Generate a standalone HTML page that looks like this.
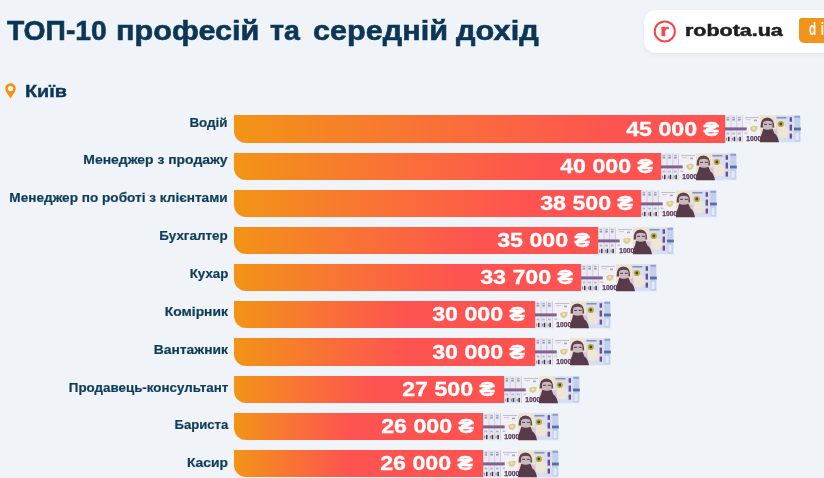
<!DOCTYPE html>
<html lang="uk"><head><meta charset="utf-8"><title>ТОП-10 професій та середній дохід</title>
<style>
html,body{margin:0;padding:0}
body{width:824px;height:478px;overflow:hidden;background:#f0f4f8;position:relative;font-family:"Liberation Sans",Arial,sans-serif;}
.title{position:absolute;left:0;top:14.50px;width:600px;height:32px;font-size:28px;font-weight:700;color:#0b3657;white-space:nowrap;line-height:32px;-webkit-text-stroke:0.6px #0b3657;}
.title span{position:absolute;top:0;transform-origin:0 0}
.card{position:absolute;left:643.5px;top:10px;width:200px;height:42.5px;background:#fff;border-radius:12px;box-shadow:0 2px 4px rgba(40,70,100,0.06)}
.logo{position:absolute;left:653px;top:20px;width:24px;height:24px;}
.rob{position:absolute;left:685.3px;top:21.46px;font-size:16px;font-weight:700;color:#1e1f24;line-height:20px;white-space:nowrap;-webkit-text-stroke:0.5px #1e1f24;transform:scaleX(1.34);transform-origin:0 0}
.di{position:absolute;left:799px;top:18.1px;width:60px;height:24.9px;background:#f0941c;border-radius:2.5px 0 0 5px;}
.dit{position:absolute;left:808.5px;top:19.07px;color:#fff;font-size:17.7px;font-weight:600;line-height:20px;white-space:nowrap;letter-spacing:7px;transform:scaleX(0.66);transform-origin:0 0}
.city{position:absolute;left:24.5px;top:80.87px;font-size:17.4px;font-weight:700;color:#0b3657;line-height:20px;-webkit-text-stroke:0.4px #0b3657;transform:scaleX(1.14);transform-origin:0 0}
.pin{position:absolute;left:4.8px;top:82.5px}
.lab{position:absolute;right:596.2px;font-size:12.5px;font-weight:700;color:#0f3c5b;line-height:16px;white-space:nowrap;text-align:right;-webkit-text-stroke:0.2px #0f3c5b;transform:scaleX(1.10);transform-origin:100% 0}
.bar{position:absolute;left:234.3px;height:27.3px;border-radius:0 0 0 12px;}
.val{position:absolute;top:0.2px;line-height:27.3px;font-size:19.5px;font-weight:700;color:#fff;white-space:nowrap;-webkit-text-stroke:0.3px #fff;transform:scaleX(1.19);transform-origin:100% 0}
.nw{position:absolute;width:77px;height:28px}
.note{display:block;filter:blur(0.3px)}
</style></head><body>
<div class="title"><span style="left:7.2px;transform:scaleX(1.0098)">ТОП-10</span> <span style="left:116.39px;transform:scaleX(1.0947)">професій</span> <span style="left:270.0px;transform:scaleX(1.0219)">та</span> <span style="left:313.4px;transform:scaleX(1.0932)">середній</span> <span style="left:456.4px;transform:scaleX(1.0982)">дохід</span></div>
<div class="card"></div>
<svg class="logo" width="24" height="24" viewBox="0 0 24 24"><circle cx="11.8" cy="11.45" r="10.05" fill="none" stroke="#f2484f" stroke-width="2.05"/><text x="7.6" y="15.9" font-family="Liberation Sans, sans-serif" font-weight="bold" font-size="16.6" fill="#f2484f" stroke="#f2484f" stroke-width="0.6" textLength="8.2" lengthAdjust="spacingAndGlyphs">r</text></svg>
<div class="rob">robota.ua</div>
<div class="di"></div><div class="dit">dim</div>
<svg class="pin" width="11" height="16" viewBox="0 0 11 16"><path d="M5.5 0.3C2.5 0.3 0.3 2.6 0.3 5.4C0.3 8.9 4 12.6 5.5 15.5C7 12.6 10.7 8.9 10.7 5.4C10.7 2.6 8.5 0.3 5.5 0.3Z" fill="#f39214"/><circle cx="5.5" cy="5.6" r="2.65" fill="#f0f4f8"/></svg>
<div class="city">Київ</div>
<div class="lab" style="top:114.57px;transform:scaleX(1.073)">Водій</div>
<div class="bar" style="top:115.40px;width:490.50px;background:linear-gradient(to right,#f29416 0%,#f97236 39.0%,#fe5351 78.0%,#fe5351 100%)"><span class="val" style="right:5.7px">45 000 ₴</span></div>
<div class="nw" style="top:115.40px;left:724.80px"><svg class="note" width="77" height="28" viewBox="0 0 77 28">
<rect x="0" y="0.3" width="18" height="27" fill="#ebeaf2"/>
<rect x="0" y="0.3" width="0.7" height="27" fill="#c6c3d2"/><rect x="5.7" y="0.3" width="0.7" height="27" fill="#c6c3d2"/><rect x="11.4" y="0.3" width="0.7" height="27" fill="#c6c3d2"/>
<rect x="0" y="12.4" width="22" height="3" fill="#7d6192"/>
<rect x="1.6" y="1.8" width="2.6" height="1.2" fill="#a9acc8"/><rect x="7.3" y="1.8" width="2.6" height="1.2" fill="#a9acc8"/><rect x="13" y="1.8" width="2.6" height="1.2" fill="#a9acc8"/>
<rect x="1.6" y="3.6" width="2.6" height="2" fill="#92a0c2"/><rect x="7.3" y="3.6" width="2.6" height="2" fill="#92a0c2"/><rect x="13" y="3.6" width="2.6" height="2" fill="#92a0c2"/>
<rect x="1.6" y="17.6" width="2.6" height="1.8" fill="#b6b5c8"/><rect x="7.3" y="17.6" width="2.6" height="1.8" fill="#b6b5c8"/><rect x="13" y="17.6" width="2.6" height="1.8" fill="#b6b5c8"/>
<rect x="3" y="21.8" width="1.5" height="4.4" fill="#3f3347"/><rect x="8.7" y="21.8" width="1.5" height="4.4" fill="#3f3347"/><rect x="14.4" y="21.8" width="1.5" height="4.4" fill="#3f3347"/>
<rect x="1.2" y="22.6" width="1" height="3" fill="#8a8296"/><rect x="6.9" y="22.6" width="1" height="3" fill="#8a8296"/><rect x="12.6" y="22.6" width="1" height="3" fill="#8a8296"/>
<rect x="17.1" y="0.3" width="58.6" height="27" fill="#f1f0f6"/>
<rect x="17.1" y="0.3" width="0.7" height="27" fill="#c6c3d2"/>
<rect x="35" y="0.3" width="19" height="27" fill="#ede4cf"/>
<rect x="51" y="0.3" width="24.7" height="27" fill="#d7def1"/>
<circle cx="58" cy="17" r="6.2" fill="#ece5d8"/>
<rect x="48" y="14.4" width="4.5" height="6.5" fill="#dcc0d6"/>
<rect x="17.1" y="12.4" width="4.6" height="3" fill="#7d6192"/>
<rect x="20" y="2" width="14" height="0.9" fill="#b9b7ca"/><rect x="21" y="4.2" width="5" height="0.9" fill="#c5c3d3"/><rect x="29" y="4.6" width="3" height="1.6" fill="#a8a6bc"/>
<path d="M25 12.5Q28.5 9.6 32.5 11.3Q33 15.5 29.3 17Q25.3 16.5 25 12.5Z" fill="#d9cb88"/><circle cx="29" cy="13.4" r="1.4" fill="#ece6bf"/>
<rect x="19.5" y="17.5" width="2.8" height="1.6" fill="#c4c2d2"/>
<text x="21.3" y="26.1" font-family="Liberation Sans, sans-serif" font-weight="bold" font-size="6.9" fill="#5a3c5e" stroke="#5a3c5e" stroke-width="0.25" textLength="15" lengthAdjust="spacingAndGlyphs">1000</text>
<path d="M35.6 12.5Q35.2 2.8 42.5 2.6Q49.3 2.8 49.2 12.5Z" fill="#5d4252"/>
<path d="M38 8Q38.8 5.8 42.7 5.7Q46.8 5.8 47.5 8L47.5 13.8Q46.3 16.3 42.7 16.4Q39.2 16.3 38 13.8Z" fill="#cbb9bc"/>
<rect x="39" y="8.8" width="3" height="1.1" fill="#5e4352"/><rect x="43.8" y="8.8" width="3" height="1.1" fill="#5e4352"/>
<path d="M38.2 13.8Q42.7 15.6 47.5 13.8L49.4 18.6Q53 20.6 54 27.3L35 27.3Q35.3 21 36.9 18.6Z" fill="#573b4a"/>
<circle cx="55.8" cy="9" r="3.1" fill="#c0ac35"/><circle cx="55.8" cy="9" r="1.4" fill="#5a4426"/>
<rect x="51.5" y="2" width="10" height="1.5" fill="#8a8ea8"/>
<rect x="64.6" y="2.2" width="2.4" height="4.6" fill="#6e4e8e"/><rect x="64.6" y="9.6" width="2.4" height="6" fill="#6e4e8e"/><rect x="64.6" y="18.6" width="2.4" height="5" fill="#6e4e8e"/>
<rect x="69.4" y="0.8" width="5.6" height="25.6" rx="1.2" fill="#c2d0ec"/>
<rect x="69.4" y="0.8" width="5.6" height="2" fill="#8fa2cf"/>
<rect x="69" y="12.6" width="6.8" height="2.8" fill="#5b6ea4"/>
<rect x="70.6" y="18" width="3" height="7" fill="#e4e9f5"/>
</svg></div><div class="lab" style="top:152.43px;transform:scaleX(1.113)">Менеджер з продажу</div>
<div class="bar" style="top:152.56px;width:427.00px;background:linear-gradient(to right,#f29416 0%,#f97236 36.6%,#fe5351 73.2%,#fe5351 100%)"><span class="val" style="right:8.0px">40 000 ₴</span></div>
<div class="nw" style="top:152.56px;left:661.30px"><svg class="note" width="77" height="28" viewBox="0 0 77 28">
<rect x="0" y="0.3" width="18" height="27" fill="#ebeaf2"/>
<rect x="0" y="0.3" width="0.7" height="27" fill="#c6c3d2"/><rect x="5.7" y="0.3" width="0.7" height="27" fill="#c6c3d2"/><rect x="11.4" y="0.3" width="0.7" height="27" fill="#c6c3d2"/>
<rect x="0" y="12.4" width="22" height="3" fill="#7d6192"/>
<rect x="1.6" y="1.8" width="2.6" height="1.2" fill="#a9acc8"/><rect x="7.3" y="1.8" width="2.6" height="1.2" fill="#a9acc8"/><rect x="13" y="1.8" width="2.6" height="1.2" fill="#a9acc8"/>
<rect x="1.6" y="3.6" width="2.6" height="2" fill="#92a0c2"/><rect x="7.3" y="3.6" width="2.6" height="2" fill="#92a0c2"/><rect x="13" y="3.6" width="2.6" height="2" fill="#92a0c2"/>
<rect x="1.6" y="17.6" width="2.6" height="1.8" fill="#b6b5c8"/><rect x="7.3" y="17.6" width="2.6" height="1.8" fill="#b6b5c8"/><rect x="13" y="17.6" width="2.6" height="1.8" fill="#b6b5c8"/>
<rect x="3" y="21.8" width="1.5" height="4.4" fill="#3f3347"/><rect x="8.7" y="21.8" width="1.5" height="4.4" fill="#3f3347"/><rect x="14.4" y="21.8" width="1.5" height="4.4" fill="#3f3347"/>
<rect x="1.2" y="22.6" width="1" height="3" fill="#8a8296"/><rect x="6.9" y="22.6" width="1" height="3" fill="#8a8296"/><rect x="12.6" y="22.6" width="1" height="3" fill="#8a8296"/>
<rect x="17.1" y="0.3" width="58.6" height="27" fill="#f1f0f6"/>
<rect x="17.1" y="0.3" width="0.7" height="27" fill="#c6c3d2"/>
<rect x="35" y="0.3" width="19" height="27" fill="#ede4cf"/>
<rect x="51" y="0.3" width="24.7" height="27" fill="#d7def1"/>
<circle cx="58" cy="17" r="6.2" fill="#ece5d8"/>
<rect x="48" y="14.4" width="4.5" height="6.5" fill="#dcc0d6"/>
<rect x="17.1" y="12.4" width="4.6" height="3" fill="#7d6192"/>
<rect x="20" y="2" width="14" height="0.9" fill="#b9b7ca"/><rect x="21" y="4.2" width="5" height="0.9" fill="#c5c3d3"/><rect x="29" y="4.6" width="3" height="1.6" fill="#a8a6bc"/>
<path d="M25 12.5Q28.5 9.6 32.5 11.3Q33 15.5 29.3 17Q25.3 16.5 25 12.5Z" fill="#d9cb88"/><circle cx="29" cy="13.4" r="1.4" fill="#ece6bf"/>
<rect x="19.5" y="17.5" width="2.8" height="1.6" fill="#c4c2d2"/>
<text x="21.3" y="26.1" font-family="Liberation Sans, sans-serif" font-weight="bold" font-size="6.9" fill="#5a3c5e" stroke="#5a3c5e" stroke-width="0.25" textLength="15" lengthAdjust="spacingAndGlyphs">1000</text>
<path d="M35.6 12.5Q35.2 2.8 42.5 2.6Q49.3 2.8 49.2 12.5Z" fill="#5d4252"/>
<path d="M38 8Q38.8 5.8 42.7 5.7Q46.8 5.8 47.5 8L47.5 13.8Q46.3 16.3 42.7 16.4Q39.2 16.3 38 13.8Z" fill="#cbb9bc"/>
<rect x="39" y="8.8" width="3" height="1.1" fill="#5e4352"/><rect x="43.8" y="8.8" width="3" height="1.1" fill="#5e4352"/>
<path d="M38.2 13.8Q42.7 15.6 47.5 13.8L49.4 18.6Q53 20.6 54 27.3L35 27.3Q35.3 21 36.9 18.6Z" fill="#573b4a"/>
<circle cx="55.8" cy="9" r="3.1" fill="#c0ac35"/><circle cx="55.8" cy="9" r="1.4" fill="#5a4426"/>
<rect x="51.5" y="2" width="10" height="1.5" fill="#8a8ea8"/>
<rect x="64.6" y="2.2" width="2.4" height="4.6" fill="#6e4e8e"/><rect x="64.6" y="9.6" width="2.4" height="6" fill="#6e4e8e"/><rect x="64.6" y="18.6" width="2.4" height="5" fill="#6e4e8e"/>
<rect x="69.4" y="0.8" width="5.6" height="25.6" rx="1.2" fill="#c2d0ec"/>
<rect x="69.4" y="0.8" width="5.6" height="2" fill="#8fa2cf"/>
<rect x="69" y="12.6" width="6.8" height="2.8" fill="#5b6ea4"/>
<rect x="70.6" y="18" width="3" height="7" fill="#e4e9f5"/>
</svg></div><div class="lab" style="top:190.29px;transform:scaleX(1.088)">Менеджер по роботі з клієнтами</div>
<div class="bar" style="top:189.72px;width:406.50px;background:linear-gradient(to right,#f29416 0%,#f97236 35.7%,#fe5351 71.4%,#fe5351 100%)"><span class="val" style="right:8.0px">38 500 ₴</span></div>
<div class="nw" style="top:189.72px;left:640.80px"><svg class="note" width="77" height="28" viewBox="0 0 77 28">
<rect x="0" y="0.3" width="18" height="27" fill="#ebeaf2"/>
<rect x="0" y="0.3" width="0.7" height="27" fill="#c6c3d2"/><rect x="5.7" y="0.3" width="0.7" height="27" fill="#c6c3d2"/><rect x="11.4" y="0.3" width="0.7" height="27" fill="#c6c3d2"/>
<rect x="0" y="12.4" width="22" height="3" fill="#7d6192"/>
<rect x="1.6" y="1.8" width="2.6" height="1.2" fill="#a9acc8"/><rect x="7.3" y="1.8" width="2.6" height="1.2" fill="#a9acc8"/><rect x="13" y="1.8" width="2.6" height="1.2" fill="#a9acc8"/>
<rect x="1.6" y="3.6" width="2.6" height="2" fill="#92a0c2"/><rect x="7.3" y="3.6" width="2.6" height="2" fill="#92a0c2"/><rect x="13" y="3.6" width="2.6" height="2" fill="#92a0c2"/>
<rect x="1.6" y="17.6" width="2.6" height="1.8" fill="#b6b5c8"/><rect x="7.3" y="17.6" width="2.6" height="1.8" fill="#b6b5c8"/><rect x="13" y="17.6" width="2.6" height="1.8" fill="#b6b5c8"/>
<rect x="3" y="21.8" width="1.5" height="4.4" fill="#3f3347"/><rect x="8.7" y="21.8" width="1.5" height="4.4" fill="#3f3347"/><rect x="14.4" y="21.8" width="1.5" height="4.4" fill="#3f3347"/>
<rect x="1.2" y="22.6" width="1" height="3" fill="#8a8296"/><rect x="6.9" y="22.6" width="1" height="3" fill="#8a8296"/><rect x="12.6" y="22.6" width="1" height="3" fill="#8a8296"/>
<rect x="17.1" y="0.3" width="58.6" height="27" fill="#f1f0f6"/>
<rect x="17.1" y="0.3" width="0.7" height="27" fill="#c6c3d2"/>
<rect x="35" y="0.3" width="19" height="27" fill="#ede4cf"/>
<rect x="51" y="0.3" width="24.7" height="27" fill="#d7def1"/>
<circle cx="58" cy="17" r="6.2" fill="#ece5d8"/>
<rect x="48" y="14.4" width="4.5" height="6.5" fill="#dcc0d6"/>
<rect x="17.1" y="12.4" width="4.6" height="3" fill="#7d6192"/>
<rect x="20" y="2" width="14" height="0.9" fill="#b9b7ca"/><rect x="21" y="4.2" width="5" height="0.9" fill="#c5c3d3"/><rect x="29" y="4.6" width="3" height="1.6" fill="#a8a6bc"/>
<path d="M25 12.5Q28.5 9.6 32.5 11.3Q33 15.5 29.3 17Q25.3 16.5 25 12.5Z" fill="#d9cb88"/><circle cx="29" cy="13.4" r="1.4" fill="#ece6bf"/>
<rect x="19.5" y="17.5" width="2.8" height="1.6" fill="#c4c2d2"/>
<text x="21.3" y="26.1" font-family="Liberation Sans, sans-serif" font-weight="bold" font-size="6.9" fill="#5a3c5e" stroke="#5a3c5e" stroke-width="0.25" textLength="15" lengthAdjust="spacingAndGlyphs">1000</text>
<path d="M35.6 12.5Q35.2 2.8 42.5 2.6Q49.3 2.8 49.2 12.5Z" fill="#5d4252"/>
<path d="M38 8Q38.8 5.8 42.7 5.7Q46.8 5.8 47.5 8L47.5 13.8Q46.3 16.3 42.7 16.4Q39.2 16.3 38 13.8Z" fill="#cbb9bc"/>
<rect x="39" y="8.8" width="3" height="1.1" fill="#5e4352"/><rect x="43.8" y="8.8" width="3" height="1.1" fill="#5e4352"/>
<path d="M38.2 13.8Q42.7 15.6 47.5 13.8L49.4 18.6Q53 20.6 54 27.3L35 27.3Q35.3 21 36.9 18.6Z" fill="#573b4a"/>
<circle cx="55.8" cy="9" r="3.1" fill="#c0ac35"/><circle cx="55.8" cy="9" r="1.4" fill="#5a4426"/>
<rect x="51.5" y="2" width="10" height="1.5" fill="#8a8ea8"/>
<rect x="64.6" y="2.2" width="2.4" height="4.6" fill="#6e4e8e"/><rect x="64.6" y="9.6" width="2.4" height="6" fill="#6e4e8e"/><rect x="64.6" y="18.6" width="2.4" height="5" fill="#6e4e8e"/>
<rect x="69.4" y="0.8" width="5.6" height="25.6" rx="1.2" fill="#c2d0ec"/>
<rect x="69.4" y="0.8" width="5.6" height="2" fill="#8fa2cf"/>
<rect x="69" y="12.6" width="6.8" height="2.8" fill="#5b6ea4"/>
<rect x="70.6" y="18" width="3" height="7" fill="#e4e9f5"/>
</svg></div><div class="lab" style="top:228.15px;transform:scaleX(1.074)">Бухгалтер</div>
<div class="bar" style="top:226.88px;width:363.50px;background:linear-gradient(to right,#f29416 0%,#f97236 33.4%,#fe5351 66.8%,#fe5351 100%)"><span class="val" style="right:7.6px">35 000 ₴</span></div>
<div class="nw" style="top:226.88px;left:597.80px"><svg class="note" width="77" height="28" viewBox="0 0 77 28">
<rect x="0" y="0.3" width="18" height="27" fill="#ebeaf2"/>
<rect x="0" y="0.3" width="0.7" height="27" fill="#c6c3d2"/><rect x="5.7" y="0.3" width="0.7" height="27" fill="#c6c3d2"/><rect x="11.4" y="0.3" width="0.7" height="27" fill="#c6c3d2"/>
<rect x="0" y="12.4" width="22" height="3" fill="#7d6192"/>
<rect x="1.6" y="1.8" width="2.6" height="1.2" fill="#a9acc8"/><rect x="7.3" y="1.8" width="2.6" height="1.2" fill="#a9acc8"/><rect x="13" y="1.8" width="2.6" height="1.2" fill="#a9acc8"/>
<rect x="1.6" y="3.6" width="2.6" height="2" fill="#92a0c2"/><rect x="7.3" y="3.6" width="2.6" height="2" fill="#92a0c2"/><rect x="13" y="3.6" width="2.6" height="2" fill="#92a0c2"/>
<rect x="1.6" y="17.6" width="2.6" height="1.8" fill="#b6b5c8"/><rect x="7.3" y="17.6" width="2.6" height="1.8" fill="#b6b5c8"/><rect x="13" y="17.6" width="2.6" height="1.8" fill="#b6b5c8"/>
<rect x="3" y="21.8" width="1.5" height="4.4" fill="#3f3347"/><rect x="8.7" y="21.8" width="1.5" height="4.4" fill="#3f3347"/><rect x="14.4" y="21.8" width="1.5" height="4.4" fill="#3f3347"/>
<rect x="1.2" y="22.6" width="1" height="3" fill="#8a8296"/><rect x="6.9" y="22.6" width="1" height="3" fill="#8a8296"/><rect x="12.6" y="22.6" width="1" height="3" fill="#8a8296"/>
<rect x="17.1" y="0.3" width="58.6" height="27" fill="#f1f0f6"/>
<rect x="17.1" y="0.3" width="0.7" height="27" fill="#c6c3d2"/>
<rect x="35" y="0.3" width="19" height="27" fill="#ede4cf"/>
<rect x="51" y="0.3" width="24.7" height="27" fill="#d7def1"/>
<circle cx="58" cy="17" r="6.2" fill="#ece5d8"/>
<rect x="48" y="14.4" width="4.5" height="6.5" fill="#dcc0d6"/>
<rect x="17.1" y="12.4" width="4.6" height="3" fill="#7d6192"/>
<rect x="20" y="2" width="14" height="0.9" fill="#b9b7ca"/><rect x="21" y="4.2" width="5" height="0.9" fill="#c5c3d3"/><rect x="29" y="4.6" width="3" height="1.6" fill="#a8a6bc"/>
<path d="M25 12.5Q28.5 9.6 32.5 11.3Q33 15.5 29.3 17Q25.3 16.5 25 12.5Z" fill="#d9cb88"/><circle cx="29" cy="13.4" r="1.4" fill="#ece6bf"/>
<rect x="19.5" y="17.5" width="2.8" height="1.6" fill="#c4c2d2"/>
<text x="21.3" y="26.1" font-family="Liberation Sans, sans-serif" font-weight="bold" font-size="6.9" fill="#5a3c5e" stroke="#5a3c5e" stroke-width="0.25" textLength="15" lengthAdjust="spacingAndGlyphs">1000</text>
<path d="M35.6 12.5Q35.2 2.8 42.5 2.6Q49.3 2.8 49.2 12.5Z" fill="#5d4252"/>
<path d="M38 8Q38.8 5.8 42.7 5.7Q46.8 5.8 47.5 8L47.5 13.8Q46.3 16.3 42.7 16.4Q39.2 16.3 38 13.8Z" fill="#cbb9bc"/>
<rect x="39" y="8.8" width="3" height="1.1" fill="#5e4352"/><rect x="43.8" y="8.8" width="3" height="1.1" fill="#5e4352"/>
<path d="M38.2 13.8Q42.7 15.6 47.5 13.8L49.4 18.6Q53 20.6 54 27.3L35 27.3Q35.3 21 36.9 18.6Z" fill="#573b4a"/>
<circle cx="55.8" cy="9" r="3.1" fill="#c0ac35"/><circle cx="55.8" cy="9" r="1.4" fill="#5a4426"/>
<rect x="51.5" y="2" width="10" height="1.5" fill="#8a8ea8"/>
<rect x="64.6" y="2.2" width="2.4" height="4.6" fill="#6e4e8e"/><rect x="64.6" y="9.6" width="2.4" height="6" fill="#6e4e8e"/><rect x="64.6" y="18.6" width="2.4" height="5" fill="#6e4e8e"/>
<rect x="69.4" y="0.8" width="5.6" height="25.6" rx="1.2" fill="#c2d0ec"/>
<rect x="69.4" y="0.8" width="5.6" height="2" fill="#8fa2cf"/>
<rect x="69" y="12.6" width="6.8" height="2.8" fill="#5b6ea4"/>
<rect x="70.6" y="18" width="3" height="7" fill="#e4e9f5"/>
</svg></div><div class="lab" style="top:266.01px;transform:scaleX(1.062)">Кухар</div>
<div class="bar" style="top:264.04px;width:346.70px;background:linear-gradient(to right,#f29416 0%,#f97236 32.4%,#fe5351 64.7%,#fe5351 100%)"><span class="val" style="right:8.1px">33 700 ₴</span></div>
<div class="nw" style="top:264.04px;left:581.00px"><svg class="note" width="77" height="28" viewBox="0 0 77 28">
<rect x="0" y="0.3" width="18" height="27" fill="#ebeaf2"/>
<rect x="0" y="0.3" width="0.7" height="27" fill="#c6c3d2"/><rect x="5.7" y="0.3" width="0.7" height="27" fill="#c6c3d2"/><rect x="11.4" y="0.3" width="0.7" height="27" fill="#c6c3d2"/>
<rect x="0" y="12.4" width="22" height="3" fill="#7d6192"/>
<rect x="1.6" y="1.8" width="2.6" height="1.2" fill="#a9acc8"/><rect x="7.3" y="1.8" width="2.6" height="1.2" fill="#a9acc8"/><rect x="13" y="1.8" width="2.6" height="1.2" fill="#a9acc8"/>
<rect x="1.6" y="3.6" width="2.6" height="2" fill="#92a0c2"/><rect x="7.3" y="3.6" width="2.6" height="2" fill="#92a0c2"/><rect x="13" y="3.6" width="2.6" height="2" fill="#92a0c2"/>
<rect x="1.6" y="17.6" width="2.6" height="1.8" fill="#b6b5c8"/><rect x="7.3" y="17.6" width="2.6" height="1.8" fill="#b6b5c8"/><rect x="13" y="17.6" width="2.6" height="1.8" fill="#b6b5c8"/>
<rect x="3" y="21.8" width="1.5" height="4.4" fill="#3f3347"/><rect x="8.7" y="21.8" width="1.5" height="4.4" fill="#3f3347"/><rect x="14.4" y="21.8" width="1.5" height="4.4" fill="#3f3347"/>
<rect x="1.2" y="22.6" width="1" height="3" fill="#8a8296"/><rect x="6.9" y="22.6" width="1" height="3" fill="#8a8296"/><rect x="12.6" y="22.6" width="1" height="3" fill="#8a8296"/>
<rect x="17.1" y="0.3" width="58.6" height="27" fill="#f1f0f6"/>
<rect x="17.1" y="0.3" width="0.7" height="27" fill="#c6c3d2"/>
<rect x="35" y="0.3" width="19" height="27" fill="#ede4cf"/>
<rect x="51" y="0.3" width="24.7" height="27" fill="#d7def1"/>
<circle cx="58" cy="17" r="6.2" fill="#ece5d8"/>
<rect x="48" y="14.4" width="4.5" height="6.5" fill="#dcc0d6"/>
<rect x="17.1" y="12.4" width="4.6" height="3" fill="#7d6192"/>
<rect x="20" y="2" width="14" height="0.9" fill="#b9b7ca"/><rect x="21" y="4.2" width="5" height="0.9" fill="#c5c3d3"/><rect x="29" y="4.6" width="3" height="1.6" fill="#a8a6bc"/>
<path d="M25 12.5Q28.5 9.6 32.5 11.3Q33 15.5 29.3 17Q25.3 16.5 25 12.5Z" fill="#d9cb88"/><circle cx="29" cy="13.4" r="1.4" fill="#ece6bf"/>
<rect x="19.5" y="17.5" width="2.8" height="1.6" fill="#c4c2d2"/>
<text x="21.3" y="26.1" font-family="Liberation Sans, sans-serif" font-weight="bold" font-size="6.9" fill="#5a3c5e" stroke="#5a3c5e" stroke-width="0.25" textLength="15" lengthAdjust="spacingAndGlyphs">1000</text>
<path d="M35.6 12.5Q35.2 2.8 42.5 2.6Q49.3 2.8 49.2 12.5Z" fill="#5d4252"/>
<path d="M38 8Q38.8 5.8 42.7 5.7Q46.8 5.8 47.5 8L47.5 13.8Q46.3 16.3 42.7 16.4Q39.2 16.3 38 13.8Z" fill="#cbb9bc"/>
<rect x="39" y="8.8" width="3" height="1.1" fill="#5e4352"/><rect x="43.8" y="8.8" width="3" height="1.1" fill="#5e4352"/>
<path d="M38.2 13.8Q42.7 15.6 47.5 13.8L49.4 18.6Q53 20.6 54 27.3L35 27.3Q35.3 21 36.9 18.6Z" fill="#573b4a"/>
<circle cx="55.8" cy="9" r="3.1" fill="#c0ac35"/><circle cx="55.8" cy="9" r="1.4" fill="#5a4426"/>
<rect x="51.5" y="2" width="10" height="1.5" fill="#8a8ea8"/>
<rect x="64.6" y="2.2" width="2.4" height="4.6" fill="#6e4e8e"/><rect x="64.6" y="9.6" width="2.4" height="6" fill="#6e4e8e"/><rect x="64.6" y="18.6" width="2.4" height="5" fill="#6e4e8e"/>
<rect x="69.4" y="0.8" width="5.6" height="25.6" rx="1.2" fill="#c2d0ec"/>
<rect x="69.4" y="0.8" width="5.6" height="2" fill="#8fa2cf"/>
<rect x="69" y="12.6" width="6.8" height="2.8" fill="#5b6ea4"/>
<rect x="70.6" y="18" width="3" height="7" fill="#e4e9f5"/>
</svg></div><div class="lab" style="top:303.87px;transform:scaleX(1.109)">Комірник</div>
<div class="bar" style="top:301.20px;width:300.50px;background:linear-gradient(to right,#f29416 0%,#f97236 28.9%,#fe5351 57.8%,#fe5351 100%)"><span class="val" style="right:9.3px">30 000 ₴</span></div>
<div class="nw" style="top:301.20px;left:534.80px"><svg class="note" width="77" height="28" viewBox="0 0 77 28">
<rect x="0" y="0.3" width="18" height="27" fill="#ebeaf2"/>
<rect x="0" y="0.3" width="0.7" height="27" fill="#c6c3d2"/><rect x="5.7" y="0.3" width="0.7" height="27" fill="#c6c3d2"/><rect x="11.4" y="0.3" width="0.7" height="27" fill="#c6c3d2"/>
<rect x="0" y="12.4" width="22" height="3" fill="#7d6192"/>
<rect x="1.6" y="1.8" width="2.6" height="1.2" fill="#a9acc8"/><rect x="7.3" y="1.8" width="2.6" height="1.2" fill="#a9acc8"/><rect x="13" y="1.8" width="2.6" height="1.2" fill="#a9acc8"/>
<rect x="1.6" y="3.6" width="2.6" height="2" fill="#92a0c2"/><rect x="7.3" y="3.6" width="2.6" height="2" fill="#92a0c2"/><rect x="13" y="3.6" width="2.6" height="2" fill="#92a0c2"/>
<rect x="1.6" y="17.6" width="2.6" height="1.8" fill="#b6b5c8"/><rect x="7.3" y="17.6" width="2.6" height="1.8" fill="#b6b5c8"/><rect x="13" y="17.6" width="2.6" height="1.8" fill="#b6b5c8"/>
<rect x="3" y="21.8" width="1.5" height="4.4" fill="#3f3347"/><rect x="8.7" y="21.8" width="1.5" height="4.4" fill="#3f3347"/><rect x="14.4" y="21.8" width="1.5" height="4.4" fill="#3f3347"/>
<rect x="1.2" y="22.6" width="1" height="3" fill="#8a8296"/><rect x="6.9" y="22.6" width="1" height="3" fill="#8a8296"/><rect x="12.6" y="22.6" width="1" height="3" fill="#8a8296"/>
<rect x="17.1" y="0.3" width="58.6" height="27" fill="#f1f0f6"/>
<rect x="17.1" y="0.3" width="0.7" height="27" fill="#c6c3d2"/>
<rect x="35" y="0.3" width="19" height="27" fill="#ede4cf"/>
<rect x="51" y="0.3" width="24.7" height="27" fill="#d7def1"/>
<circle cx="58" cy="17" r="6.2" fill="#ece5d8"/>
<rect x="48" y="14.4" width="4.5" height="6.5" fill="#dcc0d6"/>
<rect x="17.1" y="12.4" width="4.6" height="3" fill="#7d6192"/>
<rect x="20" y="2" width="14" height="0.9" fill="#b9b7ca"/><rect x="21" y="4.2" width="5" height="0.9" fill="#c5c3d3"/><rect x="29" y="4.6" width="3" height="1.6" fill="#a8a6bc"/>
<path d="M25 12.5Q28.5 9.6 32.5 11.3Q33 15.5 29.3 17Q25.3 16.5 25 12.5Z" fill="#d9cb88"/><circle cx="29" cy="13.4" r="1.4" fill="#ece6bf"/>
<rect x="19.5" y="17.5" width="2.8" height="1.6" fill="#c4c2d2"/>
<text x="21.3" y="26.1" font-family="Liberation Sans, sans-serif" font-weight="bold" font-size="6.9" fill="#5a3c5e" stroke="#5a3c5e" stroke-width="0.25" textLength="15" lengthAdjust="spacingAndGlyphs">1000</text>
<path d="M35.6 12.5Q35.2 2.8 42.5 2.6Q49.3 2.8 49.2 12.5Z" fill="#5d4252"/>
<path d="M38 8Q38.8 5.8 42.7 5.7Q46.8 5.8 47.5 8L47.5 13.8Q46.3 16.3 42.7 16.4Q39.2 16.3 38 13.8Z" fill="#cbb9bc"/>
<rect x="39" y="8.8" width="3" height="1.1" fill="#5e4352"/><rect x="43.8" y="8.8" width="3" height="1.1" fill="#5e4352"/>
<path d="M38.2 13.8Q42.7 15.6 47.5 13.8L49.4 18.6Q53 20.6 54 27.3L35 27.3Q35.3 21 36.9 18.6Z" fill="#573b4a"/>
<circle cx="55.8" cy="9" r="3.1" fill="#c0ac35"/><circle cx="55.8" cy="9" r="1.4" fill="#5a4426"/>
<rect x="51.5" y="2" width="10" height="1.5" fill="#8a8ea8"/>
<rect x="64.6" y="2.2" width="2.4" height="4.6" fill="#6e4e8e"/><rect x="64.6" y="9.6" width="2.4" height="6" fill="#6e4e8e"/><rect x="64.6" y="18.6" width="2.4" height="5" fill="#6e4e8e"/>
<rect x="69.4" y="0.8" width="5.6" height="25.6" rx="1.2" fill="#c2d0ec"/>
<rect x="69.4" y="0.8" width="5.6" height="2" fill="#8fa2cf"/>
<rect x="69" y="12.6" width="6.8" height="2.8" fill="#5b6ea4"/>
<rect x="70.6" y="18" width="3" height="7" fill="#e4e9f5"/>
</svg></div><div class="lab" style="top:341.73px;transform:scaleX(1.108)">Вантажник</div>
<div class="bar" style="top:338.36px;width:300.50px;background:linear-gradient(to right,#f29416 0%,#f97236 28.9%,#fe5351 57.8%,#fe5351 100%)"><span class="val" style="right:9.3px">30 000 ₴</span></div>
<div class="nw" style="top:338.36px;left:534.80px"><svg class="note" width="77" height="28" viewBox="0 0 77 28">
<rect x="0" y="0.3" width="18" height="27" fill="#ebeaf2"/>
<rect x="0" y="0.3" width="0.7" height="27" fill="#c6c3d2"/><rect x="5.7" y="0.3" width="0.7" height="27" fill="#c6c3d2"/><rect x="11.4" y="0.3" width="0.7" height="27" fill="#c6c3d2"/>
<rect x="0" y="12.4" width="22" height="3" fill="#7d6192"/>
<rect x="1.6" y="1.8" width="2.6" height="1.2" fill="#a9acc8"/><rect x="7.3" y="1.8" width="2.6" height="1.2" fill="#a9acc8"/><rect x="13" y="1.8" width="2.6" height="1.2" fill="#a9acc8"/>
<rect x="1.6" y="3.6" width="2.6" height="2" fill="#92a0c2"/><rect x="7.3" y="3.6" width="2.6" height="2" fill="#92a0c2"/><rect x="13" y="3.6" width="2.6" height="2" fill="#92a0c2"/>
<rect x="1.6" y="17.6" width="2.6" height="1.8" fill="#b6b5c8"/><rect x="7.3" y="17.6" width="2.6" height="1.8" fill="#b6b5c8"/><rect x="13" y="17.6" width="2.6" height="1.8" fill="#b6b5c8"/>
<rect x="3" y="21.8" width="1.5" height="4.4" fill="#3f3347"/><rect x="8.7" y="21.8" width="1.5" height="4.4" fill="#3f3347"/><rect x="14.4" y="21.8" width="1.5" height="4.4" fill="#3f3347"/>
<rect x="1.2" y="22.6" width="1" height="3" fill="#8a8296"/><rect x="6.9" y="22.6" width="1" height="3" fill="#8a8296"/><rect x="12.6" y="22.6" width="1" height="3" fill="#8a8296"/>
<rect x="17.1" y="0.3" width="58.6" height="27" fill="#f1f0f6"/>
<rect x="17.1" y="0.3" width="0.7" height="27" fill="#c6c3d2"/>
<rect x="35" y="0.3" width="19" height="27" fill="#ede4cf"/>
<rect x="51" y="0.3" width="24.7" height="27" fill="#d7def1"/>
<circle cx="58" cy="17" r="6.2" fill="#ece5d8"/>
<rect x="48" y="14.4" width="4.5" height="6.5" fill="#dcc0d6"/>
<rect x="17.1" y="12.4" width="4.6" height="3" fill="#7d6192"/>
<rect x="20" y="2" width="14" height="0.9" fill="#b9b7ca"/><rect x="21" y="4.2" width="5" height="0.9" fill="#c5c3d3"/><rect x="29" y="4.6" width="3" height="1.6" fill="#a8a6bc"/>
<path d="M25 12.5Q28.5 9.6 32.5 11.3Q33 15.5 29.3 17Q25.3 16.5 25 12.5Z" fill="#d9cb88"/><circle cx="29" cy="13.4" r="1.4" fill="#ece6bf"/>
<rect x="19.5" y="17.5" width="2.8" height="1.6" fill="#c4c2d2"/>
<text x="21.3" y="26.1" font-family="Liberation Sans, sans-serif" font-weight="bold" font-size="6.9" fill="#5a3c5e" stroke="#5a3c5e" stroke-width="0.25" textLength="15" lengthAdjust="spacingAndGlyphs">1000</text>
<path d="M35.6 12.5Q35.2 2.8 42.5 2.6Q49.3 2.8 49.2 12.5Z" fill="#5d4252"/>
<path d="M38 8Q38.8 5.8 42.7 5.7Q46.8 5.8 47.5 8L47.5 13.8Q46.3 16.3 42.7 16.4Q39.2 16.3 38 13.8Z" fill="#cbb9bc"/>
<rect x="39" y="8.8" width="3" height="1.1" fill="#5e4352"/><rect x="43.8" y="8.8" width="3" height="1.1" fill="#5e4352"/>
<path d="M38.2 13.8Q42.7 15.6 47.5 13.8L49.4 18.6Q53 20.6 54 27.3L35 27.3Q35.3 21 36.9 18.6Z" fill="#573b4a"/>
<circle cx="55.8" cy="9" r="3.1" fill="#c0ac35"/><circle cx="55.8" cy="9" r="1.4" fill="#5a4426"/>
<rect x="51.5" y="2" width="10" height="1.5" fill="#8a8ea8"/>
<rect x="64.6" y="2.2" width="2.4" height="4.6" fill="#6e4e8e"/><rect x="64.6" y="9.6" width="2.4" height="6" fill="#6e4e8e"/><rect x="64.6" y="18.6" width="2.4" height="5" fill="#6e4e8e"/>
<rect x="69.4" y="0.8" width="5.6" height="25.6" rx="1.2" fill="#c2d0ec"/>
<rect x="69.4" y="0.8" width="5.6" height="2" fill="#8fa2cf"/>
<rect x="69" y="12.6" width="6.8" height="2.8" fill="#5b6ea4"/>
<rect x="70.6" y="18" width="3" height="7" fill="#e4e9f5"/>
</svg></div><div class="lab" style="top:379.59px;transform:scaleX(1.068)">Продавець-консультант</div>
<div class="bar" style="top:375.52px;width:269.40px;background:linear-gradient(to right,#f29416 0%,#f97236 25.9%,#fe5351 51.7%,#fe5351 100%)"><span class="val" style="right:8.4px">27 500 ₴</span></div>
<div class="nw" style="top:375.52px;left:503.70px"><svg class="note" width="77" height="28" viewBox="0 0 77 28">
<rect x="0" y="0.3" width="18" height="27" fill="#ebeaf2"/>
<rect x="0" y="0.3" width="0.7" height="27" fill="#c6c3d2"/><rect x="5.7" y="0.3" width="0.7" height="27" fill="#c6c3d2"/><rect x="11.4" y="0.3" width="0.7" height="27" fill="#c6c3d2"/>
<rect x="0" y="12.4" width="22" height="3" fill="#7d6192"/>
<rect x="1.6" y="1.8" width="2.6" height="1.2" fill="#a9acc8"/><rect x="7.3" y="1.8" width="2.6" height="1.2" fill="#a9acc8"/><rect x="13" y="1.8" width="2.6" height="1.2" fill="#a9acc8"/>
<rect x="1.6" y="3.6" width="2.6" height="2" fill="#92a0c2"/><rect x="7.3" y="3.6" width="2.6" height="2" fill="#92a0c2"/><rect x="13" y="3.6" width="2.6" height="2" fill="#92a0c2"/>
<rect x="1.6" y="17.6" width="2.6" height="1.8" fill="#b6b5c8"/><rect x="7.3" y="17.6" width="2.6" height="1.8" fill="#b6b5c8"/><rect x="13" y="17.6" width="2.6" height="1.8" fill="#b6b5c8"/>
<rect x="3" y="21.8" width="1.5" height="4.4" fill="#3f3347"/><rect x="8.7" y="21.8" width="1.5" height="4.4" fill="#3f3347"/><rect x="14.4" y="21.8" width="1.5" height="4.4" fill="#3f3347"/>
<rect x="1.2" y="22.6" width="1" height="3" fill="#8a8296"/><rect x="6.9" y="22.6" width="1" height="3" fill="#8a8296"/><rect x="12.6" y="22.6" width="1" height="3" fill="#8a8296"/>
<rect x="17.1" y="0.3" width="58.6" height="27" fill="#f1f0f6"/>
<rect x="17.1" y="0.3" width="0.7" height="27" fill="#c6c3d2"/>
<rect x="35" y="0.3" width="19" height="27" fill="#ede4cf"/>
<rect x="51" y="0.3" width="24.7" height="27" fill="#d7def1"/>
<circle cx="58" cy="17" r="6.2" fill="#ece5d8"/>
<rect x="48" y="14.4" width="4.5" height="6.5" fill="#dcc0d6"/>
<rect x="17.1" y="12.4" width="4.6" height="3" fill="#7d6192"/>
<rect x="20" y="2" width="14" height="0.9" fill="#b9b7ca"/><rect x="21" y="4.2" width="5" height="0.9" fill="#c5c3d3"/><rect x="29" y="4.6" width="3" height="1.6" fill="#a8a6bc"/>
<path d="M25 12.5Q28.5 9.6 32.5 11.3Q33 15.5 29.3 17Q25.3 16.5 25 12.5Z" fill="#d9cb88"/><circle cx="29" cy="13.4" r="1.4" fill="#ece6bf"/>
<rect x="19.5" y="17.5" width="2.8" height="1.6" fill="#c4c2d2"/>
<text x="21.3" y="26.1" font-family="Liberation Sans, sans-serif" font-weight="bold" font-size="6.9" fill="#5a3c5e" stroke="#5a3c5e" stroke-width="0.25" textLength="15" lengthAdjust="spacingAndGlyphs">1000</text>
<path d="M35.6 12.5Q35.2 2.8 42.5 2.6Q49.3 2.8 49.2 12.5Z" fill="#5d4252"/>
<path d="M38 8Q38.8 5.8 42.7 5.7Q46.8 5.8 47.5 8L47.5 13.8Q46.3 16.3 42.7 16.4Q39.2 16.3 38 13.8Z" fill="#cbb9bc"/>
<rect x="39" y="8.8" width="3" height="1.1" fill="#5e4352"/><rect x="43.8" y="8.8" width="3" height="1.1" fill="#5e4352"/>
<path d="M38.2 13.8Q42.7 15.6 47.5 13.8L49.4 18.6Q53 20.6 54 27.3L35 27.3Q35.3 21 36.9 18.6Z" fill="#573b4a"/>
<circle cx="55.8" cy="9" r="3.1" fill="#c0ac35"/><circle cx="55.8" cy="9" r="1.4" fill="#5a4426"/>
<rect x="51.5" y="2" width="10" height="1.5" fill="#8a8ea8"/>
<rect x="64.6" y="2.2" width="2.4" height="4.6" fill="#6e4e8e"/><rect x="64.6" y="9.6" width="2.4" height="6" fill="#6e4e8e"/><rect x="64.6" y="18.6" width="2.4" height="5" fill="#6e4e8e"/>
<rect x="69.4" y="0.8" width="5.6" height="25.6" rx="1.2" fill="#c2d0ec"/>
<rect x="69.4" y="0.8" width="5.6" height="2" fill="#8fa2cf"/>
<rect x="69" y="12.6" width="6.8" height="2.8" fill="#5b6ea4"/>
<rect x="70.6" y="18" width="3" height="7" fill="#e4e9f5"/>
</svg></div><div class="lab" style="top:417.45px;transform:scaleX(1.048)">Бариста</div>
<div class="bar" style="top:412.68px;width:249.10px;background:linear-gradient(to right,#f29416 0%,#f97236 23.5%,#fe5351 47.0%,#fe5351 100%)"><span class="val" style="right:9.6px">26 000 ₴</span></div>
<div class="nw" style="top:412.68px;left:483.40px"><svg class="note" width="77" height="28" viewBox="0 0 77 28">
<rect x="0" y="0.3" width="18" height="27" fill="#ebeaf2"/>
<rect x="0" y="0.3" width="0.7" height="27" fill="#c6c3d2"/><rect x="5.7" y="0.3" width="0.7" height="27" fill="#c6c3d2"/><rect x="11.4" y="0.3" width="0.7" height="27" fill="#c6c3d2"/>
<rect x="0" y="12.4" width="22" height="3" fill="#7d6192"/>
<rect x="1.6" y="1.8" width="2.6" height="1.2" fill="#a9acc8"/><rect x="7.3" y="1.8" width="2.6" height="1.2" fill="#a9acc8"/><rect x="13" y="1.8" width="2.6" height="1.2" fill="#a9acc8"/>
<rect x="1.6" y="3.6" width="2.6" height="2" fill="#92a0c2"/><rect x="7.3" y="3.6" width="2.6" height="2" fill="#92a0c2"/><rect x="13" y="3.6" width="2.6" height="2" fill="#92a0c2"/>
<rect x="1.6" y="17.6" width="2.6" height="1.8" fill="#b6b5c8"/><rect x="7.3" y="17.6" width="2.6" height="1.8" fill="#b6b5c8"/><rect x="13" y="17.6" width="2.6" height="1.8" fill="#b6b5c8"/>
<rect x="3" y="21.8" width="1.5" height="4.4" fill="#3f3347"/><rect x="8.7" y="21.8" width="1.5" height="4.4" fill="#3f3347"/><rect x="14.4" y="21.8" width="1.5" height="4.4" fill="#3f3347"/>
<rect x="1.2" y="22.6" width="1" height="3" fill="#8a8296"/><rect x="6.9" y="22.6" width="1" height="3" fill="#8a8296"/><rect x="12.6" y="22.6" width="1" height="3" fill="#8a8296"/>
<rect x="17.1" y="0.3" width="58.6" height="27" fill="#f1f0f6"/>
<rect x="17.1" y="0.3" width="0.7" height="27" fill="#c6c3d2"/>
<rect x="35" y="0.3" width="19" height="27" fill="#ede4cf"/>
<rect x="51" y="0.3" width="24.7" height="27" fill="#d7def1"/>
<circle cx="58" cy="17" r="6.2" fill="#ece5d8"/>
<rect x="48" y="14.4" width="4.5" height="6.5" fill="#dcc0d6"/>
<rect x="17.1" y="12.4" width="4.6" height="3" fill="#7d6192"/>
<rect x="20" y="2" width="14" height="0.9" fill="#b9b7ca"/><rect x="21" y="4.2" width="5" height="0.9" fill="#c5c3d3"/><rect x="29" y="4.6" width="3" height="1.6" fill="#a8a6bc"/>
<path d="M25 12.5Q28.5 9.6 32.5 11.3Q33 15.5 29.3 17Q25.3 16.5 25 12.5Z" fill="#d9cb88"/><circle cx="29" cy="13.4" r="1.4" fill="#ece6bf"/>
<rect x="19.5" y="17.5" width="2.8" height="1.6" fill="#c4c2d2"/>
<text x="21.3" y="26.1" font-family="Liberation Sans, sans-serif" font-weight="bold" font-size="6.9" fill="#5a3c5e" stroke="#5a3c5e" stroke-width="0.25" textLength="15" lengthAdjust="spacingAndGlyphs">1000</text>
<path d="M35.6 12.5Q35.2 2.8 42.5 2.6Q49.3 2.8 49.2 12.5Z" fill="#5d4252"/>
<path d="M38 8Q38.8 5.8 42.7 5.7Q46.8 5.8 47.5 8L47.5 13.8Q46.3 16.3 42.7 16.4Q39.2 16.3 38 13.8Z" fill="#cbb9bc"/>
<rect x="39" y="8.8" width="3" height="1.1" fill="#5e4352"/><rect x="43.8" y="8.8" width="3" height="1.1" fill="#5e4352"/>
<path d="M38.2 13.8Q42.7 15.6 47.5 13.8L49.4 18.6Q53 20.6 54 27.3L35 27.3Q35.3 21 36.9 18.6Z" fill="#573b4a"/>
<circle cx="55.8" cy="9" r="3.1" fill="#c0ac35"/><circle cx="55.8" cy="9" r="1.4" fill="#5a4426"/>
<rect x="51.5" y="2" width="10" height="1.5" fill="#8a8ea8"/>
<rect x="64.6" y="2.2" width="2.4" height="4.6" fill="#6e4e8e"/><rect x="64.6" y="9.6" width="2.4" height="6" fill="#6e4e8e"/><rect x="64.6" y="18.6" width="2.4" height="5" fill="#6e4e8e"/>
<rect x="69.4" y="0.8" width="5.6" height="25.6" rx="1.2" fill="#c2d0ec"/>
<rect x="69.4" y="0.8" width="5.6" height="2" fill="#8fa2cf"/>
<rect x="69" y="12.6" width="6.8" height="2.8" fill="#5b6ea4"/>
<rect x="70.6" y="18" width="3" height="7" fill="#e4e9f5"/>
</svg></div><div class="lab" style="top:455.31px;transform:scaleX(1.111)">Касир</div>
<div class="bar" style="top:449.84px;width:249.10px;background:linear-gradient(to right,#f29416 0%,#f97236 23.5%,#fe5351 47.0%,#fe5351 100%)"><span class="val" style="right:10.0px">26 000 ₴</span></div>
<div class="nw" style="top:449.84px;left:483.40px"><svg class="note" width="77" height="28" viewBox="0 0 77 28">
<rect x="0" y="0.3" width="18" height="27" fill="#ebeaf2"/>
<rect x="0" y="0.3" width="0.7" height="27" fill="#c6c3d2"/><rect x="5.7" y="0.3" width="0.7" height="27" fill="#c6c3d2"/><rect x="11.4" y="0.3" width="0.7" height="27" fill="#c6c3d2"/>
<rect x="0" y="12.4" width="22" height="3" fill="#7d6192"/>
<rect x="1.6" y="1.8" width="2.6" height="1.2" fill="#a9acc8"/><rect x="7.3" y="1.8" width="2.6" height="1.2" fill="#a9acc8"/><rect x="13" y="1.8" width="2.6" height="1.2" fill="#a9acc8"/>
<rect x="1.6" y="3.6" width="2.6" height="2" fill="#92a0c2"/><rect x="7.3" y="3.6" width="2.6" height="2" fill="#92a0c2"/><rect x="13" y="3.6" width="2.6" height="2" fill="#92a0c2"/>
<rect x="1.6" y="17.6" width="2.6" height="1.8" fill="#b6b5c8"/><rect x="7.3" y="17.6" width="2.6" height="1.8" fill="#b6b5c8"/><rect x="13" y="17.6" width="2.6" height="1.8" fill="#b6b5c8"/>
<rect x="3" y="21.8" width="1.5" height="4.4" fill="#3f3347"/><rect x="8.7" y="21.8" width="1.5" height="4.4" fill="#3f3347"/><rect x="14.4" y="21.8" width="1.5" height="4.4" fill="#3f3347"/>
<rect x="1.2" y="22.6" width="1" height="3" fill="#8a8296"/><rect x="6.9" y="22.6" width="1" height="3" fill="#8a8296"/><rect x="12.6" y="22.6" width="1" height="3" fill="#8a8296"/>
<rect x="17.1" y="0.3" width="58.6" height="27" fill="#f1f0f6"/>
<rect x="17.1" y="0.3" width="0.7" height="27" fill="#c6c3d2"/>
<rect x="35" y="0.3" width="19" height="27" fill="#ede4cf"/>
<rect x="51" y="0.3" width="24.7" height="27" fill="#d7def1"/>
<circle cx="58" cy="17" r="6.2" fill="#ece5d8"/>
<rect x="48" y="14.4" width="4.5" height="6.5" fill="#dcc0d6"/>
<rect x="17.1" y="12.4" width="4.6" height="3" fill="#7d6192"/>
<rect x="20" y="2" width="14" height="0.9" fill="#b9b7ca"/><rect x="21" y="4.2" width="5" height="0.9" fill="#c5c3d3"/><rect x="29" y="4.6" width="3" height="1.6" fill="#a8a6bc"/>
<path d="M25 12.5Q28.5 9.6 32.5 11.3Q33 15.5 29.3 17Q25.3 16.5 25 12.5Z" fill="#d9cb88"/><circle cx="29" cy="13.4" r="1.4" fill="#ece6bf"/>
<rect x="19.5" y="17.5" width="2.8" height="1.6" fill="#c4c2d2"/>
<text x="21.3" y="26.1" font-family="Liberation Sans, sans-serif" font-weight="bold" font-size="6.9" fill="#5a3c5e" stroke="#5a3c5e" stroke-width="0.25" textLength="15" lengthAdjust="spacingAndGlyphs">1000</text>
<path d="M35.6 12.5Q35.2 2.8 42.5 2.6Q49.3 2.8 49.2 12.5Z" fill="#5d4252"/>
<path d="M38 8Q38.8 5.8 42.7 5.7Q46.8 5.8 47.5 8L47.5 13.8Q46.3 16.3 42.7 16.4Q39.2 16.3 38 13.8Z" fill="#cbb9bc"/>
<rect x="39" y="8.8" width="3" height="1.1" fill="#5e4352"/><rect x="43.8" y="8.8" width="3" height="1.1" fill="#5e4352"/>
<path d="M38.2 13.8Q42.7 15.6 47.5 13.8L49.4 18.6Q53 20.6 54 27.3L35 27.3Q35.3 21 36.9 18.6Z" fill="#573b4a"/>
<circle cx="55.8" cy="9" r="3.1" fill="#c0ac35"/><circle cx="55.8" cy="9" r="1.4" fill="#5a4426"/>
<rect x="51.5" y="2" width="10" height="1.5" fill="#8a8ea8"/>
<rect x="64.6" y="2.2" width="2.4" height="4.6" fill="#6e4e8e"/><rect x="64.6" y="9.6" width="2.4" height="6" fill="#6e4e8e"/><rect x="64.6" y="18.6" width="2.4" height="5" fill="#6e4e8e"/>
<rect x="69.4" y="0.8" width="5.6" height="25.6" rx="1.2" fill="#c2d0ec"/>
<rect x="69.4" y="0.8" width="5.6" height="2" fill="#8fa2cf"/>
<rect x="69" y="12.6" width="6.8" height="2.8" fill="#5b6ea4"/>
<rect x="70.6" y="18" width="3" height="7" fill="#e4e9f5"/>
</svg></div>
</body></html>
